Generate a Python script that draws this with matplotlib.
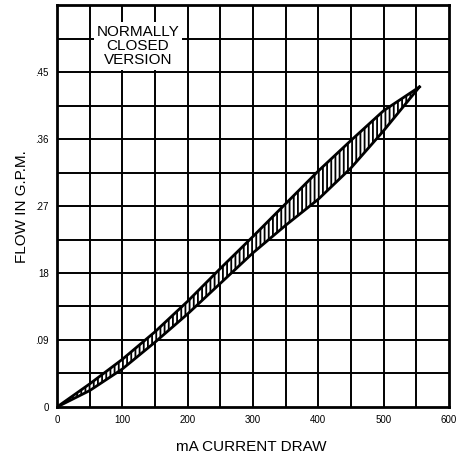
import matplotlib
matplotlib.use("Agg")
import matplotlib.pyplot as plt
import numpy as np

# band edges (mA vs GPM)
current_ma = [0, 50, 100, 150, 200, 250, 300, 350, 400, 450, 500, 555]
flow_upper = [0, 0.031, 0.064, 0.101, 0.142, 0.186, 0.229, 0.273, 0.317, 0.358, 0.398, 0.430]
flow_lower = [0, 0.022, 0.051, 0.087, 0.125, 0.166, 0.207, 0.244, 0.279, 0.321, 0.371, 0.430]

x_ticks = [0, 100, 200, 300, 400, 500, 600]
x_tick_labels = ["0", "100", "200", "300", "400", "500", "600"]
y_ticks = [0, 0.09, 0.18, 0.27, 0.36, 0.45]
y_tick_labels = ["0", ".09", "18", ".27", ".36", ".45"]

plt.rcParams["font.family"] = ["Liberation Sans", "DejaVu Sans"]
plt.rcParams["hatch.linewidth"] = 1.3

fig = plt.figure(figsize=(4.58, 4.58), dpi=100)
ax = fig.add_axes([0.1245, 0.1114, 0.8555, 0.8776])

ax.set_xlim(0, 600)
ax.set_ylim(0, 0.54)

# grid every 50 mA / .045 GPM
for gx in np.arange(50, 600, 50):
    ax.axvline(gx, color="black", lw=1.4, zorder=1)
for gy in np.arange(0.045, 0.54, 0.045):
    ax.axhline(gy, color="black", lw=1.4, zorder=1)

ax.fill_between(current_ma, flow_lower, flow_upper, facecolor="white",
                edgecolor="black", hatch="||||", lw=0, zorder=3)
ax.plot(current_ma, flow_upper, color="black", lw=2.0, zorder=4)
ax.plot(current_ma, flow_lower, color="black", lw=2.0, zorder=4)

ax.set_xticks(x_ticks)
ax.set_xticklabels(x_tick_labels, fontsize=7)
ax.set_yticks(y_ticks)
ax.set_yticklabels(y_tick_labels, fontsize=7)
ax.tick_params(length=0, pad=6)
for s in ax.spines.values():
    s.set_linewidth(2.0)

ax.text(124, 0.485, "NORMALLY\nCLOSED\nVERSION", ha="center", va="center",
        fontsize=11, linespacing=1.0, zorder=5,
        bbox=dict(facecolor="white", edgecolor="none", pad=2))

fig.text(251 / 458, 1 - 447 / 458, "mA CURRENT DRAW", ha="center", va="center",
         fontsize=11)
fig.text(22 / 458, 1 - 207 / 458, "FLOW IN G.P.M.", ha="center", va="center",
         rotation=90, fontsize=11)

fig.savefig("out.png", dpi=100)
plt.close(fig)
